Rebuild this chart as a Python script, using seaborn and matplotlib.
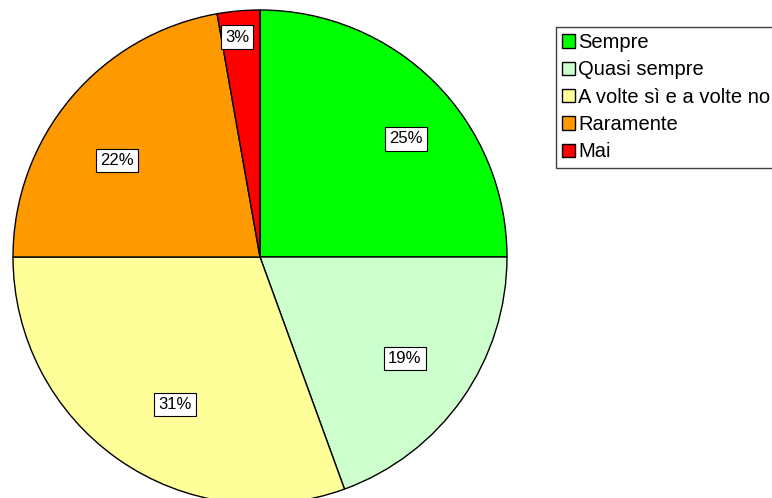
import matplotlib
matplotlib.use("Agg")
import matplotlib.pyplot as plt
import seaborn as sns
import numpy as np
from matplotlib.patches import Patch

sns.set_theme(style="white")
plt.rcParams['font.family'] = ['Liberation Sans', 'DejaVu Sans']
plt.rcParams['text.color'] = 'black'

categories = ["Sempre", "Quasi sempre", "A volte sì e a volte no", "Raramente", "Mai"]
counts = [9, 7, 11, 8, 1]
colors = ["#00FF00", "#CCFFCC", "#FFFF99", "#FF9900", "#FF0000"]
label_dist = [0.76, 0.715, 0.69, 0.70, 0.895]
label_rot = [-6, 0, 5, 6, 1]

W, H = 772, 498
fig = plt.figure(figsize=(W / 100, H / 100), dpi=100)
ax = fig.add_axes([0, 0, 1, 1])

cx, cy, R = 260, H - 257, 247
wedges, texts, autotexts = ax.pie(
    counts, colors=colors, startangle=90, counterclock=False,
    center=(cx, cy), radius=R, autopct=lambda p: f"{p:.0f}%",
    pctdistance=0.72, frame=True,
    wedgeprops=dict(edgecolor="black", linewidth=1.0),
    textprops=dict(fontsize=12, color="black"))
ax.set_xlim(0, W)
ax.set_ylim(0, H)
ax.set_aspect('equal')
ax.axis('off')

for w, t, d, r in zip(wedges, autotexts, label_dist, label_rot):
    ang = np.deg2rad((w.theta1 + w.theta2) / 2 + r)
    t.set_position((cx + d * R * np.cos(ang), cy + d * R * np.sin(ang)))
    t.set_bbox(dict(boxstyle="square,pad=0.25", facecolor="white", edgecolor="black", linewidth=0.8))

handles = [Patch(facecolor=c, edgecolor="black", linewidth=1.0) for c in colors]
leg = fig.legend(handles, categories, loc="upper left",
                 bbox_to_anchor=(556 / W, 1 - 27 / H, 240 / W, 0), mode="expand",
                 borderaxespad=0, labelcolor="black",
                 fontsize=14.5, frameon=True, fancybox=False, shadow=False,
                 handlelength=0.65, handleheight=0.65, handletextpad=0.15,
                 labelspacing=0.415, borderpad=0.3)
fr = leg.get_frame()
fr.set_edgecolor("#404040")
fr.set_linewidth(1.0)
fr.set_alpha(1)

fig.savefig("out.png", dpi=100)
